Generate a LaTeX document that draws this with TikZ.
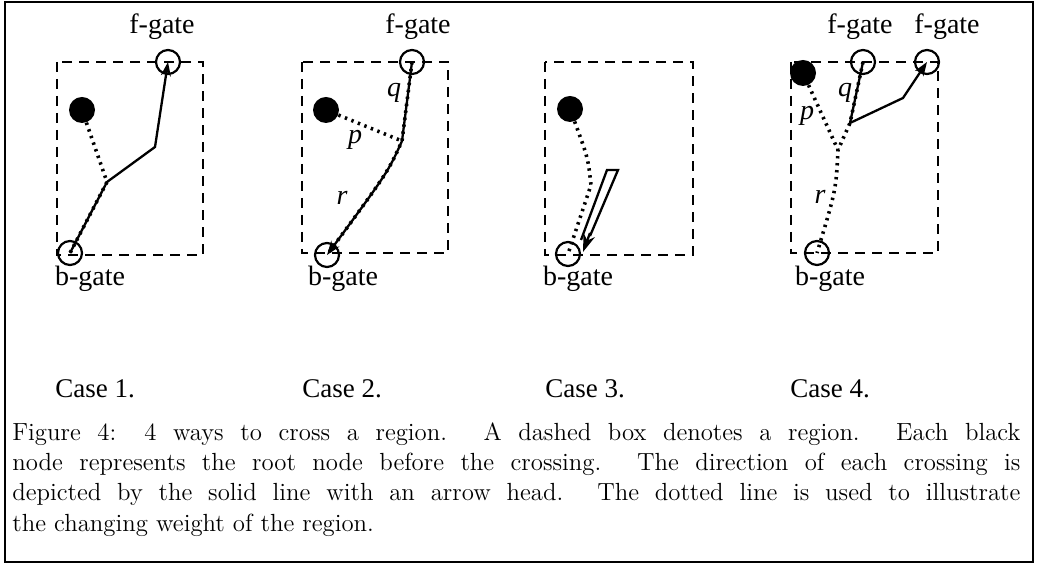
\documentclass[tikz,border=0pt]{standalone}
\usepackage{fontspec}
\newfontfamily\timesf{Liberation Serif}
\usetikzlibrary{arrows.meta,calc}

\begin{document}
\begin{tikzpicture}[x=0.5pt,y=-0.5pt,
  gate/.style={circle,draw,line width=1.1pt,minimum size=12pt,inner sep=0pt},
  root/.style={circle,fill,minimum size=13pt,inner sep=0pt},
  region/.style={line width=1.3pt,dash pattern=on 5pt off 3.5pt},
  move/.style={line width=1.15pt},
  weight/.style={line width=1.8pt,dash pattern=on 1.2pt off 2.3pt},
  tip/.style={-{Stealth[length=7pt,width=5pt]}},
  lbl/.style={font=\timesf\fontsize{14}{16}\selectfont,inner sep=0pt},
  var/.style={font=\timesf\itshape\fontsize{14}{16}\selectfont,inner sep=0pt},
  casename/.style={font=\timesf\fontsize{13.5}{16}\selectfont,inner sep=0pt,anchor=base west}
]
\useasboundingbox (0,0) rectangle (1040,565);
\draw[line width=1pt] (5,2) rectangle (1033,562);

% ---- Case 1 ----
\draw[region] (57,62) rectangle (203,255);
\node[gate] (f1) at (168,62) {};
\node[gate] (b1) at (70,253) {};
\node[root] (n1) at (82,110) {};
\coordinate (k1) at (107,182);
\coordinate (j1) at (155,147);
\draw[weight] (n1) -- (k1) -- (b1.center);
\draw[move,tip] (b1.center) -- (k1) -- (j1) -- (f1.center);
\node[lbl,anchor=base] (lf1) at (162,34) {f-gate};
\node[lbl,anchor=base] (lb1) at (90,286) {b-gate};

% ---- Case 2 ----
\draw[region] (302,62) rectangle (448,253);
\node[gate] (f2) at (412,62) {};
\node[gate] (b2) at (327,255) {};
\node[root] (n2) at (326,110) {};
\coordinate (k2) at (402,141);
\draw[weight] (n2) -- (k2);
\draw[weight] (f2.center) -- (k2) .. controls (388,172) .. (b2.center);
\draw[move,tip] (f2.center) -- (k2) .. controls (388,172) .. (b2.center);
\node[var] (q2) at (394,93) {q};
\node[var] (p2) at (355,140) {p};
\node[var] (r2) at (342,198) {r};
\node[lbl,anchor=base] (lf2) at (418,34) {f-gate};
\node[lbl,anchor=base] (lb2) at (343,286) {b-gate};

% ---- Case 3 ----
\draw[region] (545,62) rectangle (693,255);
\node[gate] (b3) at (568,254) {};
\node[root] (n3) at (570,109) {};
\draw[weight] (n3) .. controls (588,158) .. (591,185) -- (b3.center);
\coordinate (a3) at (607,170);
\coordinate (c3) at (618,170);
\coordinate (t3) at (583,252);
\draw[move] (581,240) -- (a3) -- (c3) -- (590,236);
\draw[move,-{Stealth[length=9pt,width=6pt]}] (590,233) -- (t3);
\node[lbl,anchor=base] (lb3) at (578,286) {b-gate};

% ---- Case 4 ----
\draw[region] (791,62) rectangle (938,253);
\node[gate] (f4a) at (863,62) {};
\node[gate] (f4b) at (927,62) {};
\node[gate] (b4) at (817,253) {};
\node[root] (n4) at (803,73) {};
\coordinate (x4) at (850,123);
\coordinate (y4) at (903,98);
\coordinate (m4) at (838,150);
\draw[weight] (n4) -- (m4);
\draw[weight] (f4a.center) -- (x4) -- (m4) .. controls (836,190) .. (b4.center);
\draw[move,tip] (f4a.center) -- (x4) -- (y4) -- (f4b.center);
\node[var] (q4) at (845,93) {q};
\node[var] (p4) at (807,116) {p};
\node[var] (r4) at (820,197) {r};
\node[lbl,anchor=base] (lf4a) at (860,34) {f-gate};
\node[lbl,anchor=base] (lf4b) at (947,34) {f-gate};
\node[lbl,anchor=base] (lb4) at (830,286) {b-gate};

% ---- case names ----
\node[casename] (c1) at (55,398) {Case 1.};
\node[casename] (c2) at (302,398) {Case 2.};
\node[casename] (c3) at (545,398) {Case 3.};
\node[casename] (c4) at (790,398) {Case 4.};

% ---- caption ----
\node[anchor=north west,inner sep=0pt,text width=504pt,align=justify,
      font=\fontsize{12.4}{15.2}\selectfont] (cap) at (12,422)
{Figure 4: 4 ways to cross a region.  A dashed box denotes a region.  Each black\linebreak
node represents the root node before the crossing. The direction of each crossing is\linebreak
depicted by the solid line with an arrow head. The dotted line is used to illustrate\linebreak
the changing weight of the region.};
\end{tikzpicture}
\end{document}
